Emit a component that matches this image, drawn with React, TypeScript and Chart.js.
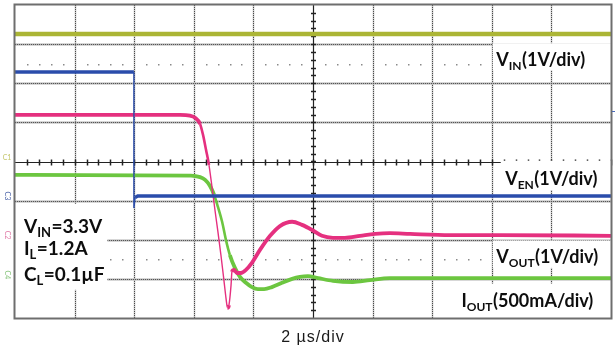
import React, { useEffect, useRef } from "react";
import { Chart, registerables } from "chart.js";

Chart.register(...registerables);

// Time axis in µs (2 µs/div, 10 divisions); vertical axis in screen divisions (8 divisions)
const timeMin = 0;
const timeMax = 20;
const divMin = 0;
const divMax = 8;
const timeGrid = [0, 2, 4, 6, 8, 10, 12, 14, 16, 18, 20];
const levelGrid = [0, 1, 2, 3, 4, 5, 6, 7, 8];
const dottedLevels = [1.5, 6.5];
const xAxisCaption = "2 µs/div";

// VIN (1V/div)
const vinTime = [0, 20];
const vinLevel = [7.26, 7.26];

// VEN (1V/div)
const venTime = [0, 3.99, 3.99, 4.03, 4.12, 20];
const venLevel = [6.29, 6.29, 2.81, 3.08, 3.12, 3.12];

// VOUT (1V/div)
const voutTime = [0, 5.54, 5.87, 6.04, 6.21, 6.31, 6.41, 6.51, 6.61, 6.71, 6.81, 6.91, 7.01, 7.08, 7.13, 7.18, 7.25, 7.28, 7.35, 7.45, 7.58, 7.75, 7.95, 8.22, 8.56, 8.89, 9.3, 9.63, 9.97, 10.3, 10.67, 11.07, 11.58, 12.08, 12.58, 13.26, 14.6, 16.28, 20];
const voutLevel = [5.19, 5.19, 5.17, 5.12, 4.96, 4.68, 4.3, 3.91, 3.35, 2.76, 2.2, 1.61, 0.97, 0.51, 0.26, 0.33, 0.84, 1.18, 1.23, 1.15, 1.15, 1.23, 1.41, 1.74, 2.1, 2.35, 2.46, 2.38, 2.25, 2.1, 2.05, 2.05, 2.1, 2.15, 2.17, 2.15, 2.12, 2.12, 2.1];

// IOUT (500mA/div)
const ioutTime = [0, 5.9, 6.21, 6.38, 6.54, 6.68, 6.81, 6.95, 7.08, 7.21, 7.38, 7.55, 7.75, 7.95, 8.15, 8.36, 8.62, 8.96, 9.3, 9.56, 9.83, 10.17, 10.67, 11.34, 11.91, 12.58, 14.6, 20];
const ioutLevel = [3.66, 3.64, 3.6, 3.53, 3.38, 3.15, 2.84, 2.46, 1.99, 1.61, 1.28, 1.05, 0.9, 0.79, 0.74, 0.74, 0.79, 0.9, 1.0, 1.05, 1.07, 1.02, 0.95, 0.92, 0.97, 1.02, 1.02, 1.02];

const traceLabels = [
  ["V", "IN", "(1V/div)"],
  ["V", "EN", "(1V/div)"],
  ["V", "OUT", "(1V/div)"],
  ["I", "OUT", "(500mA/div)"],
];
const conditionLabels = [
  ["V", "IN", "=3.3V"],
  ["I", "L", "=1.2A"],
  ["C", "L", "=0.1µF"],
];
const channelMarks = ["C1", "C3", "C2", "C4"];
const channelMarkLevels = [4.1, 3.12, 2.12, 1.1];

const pts = (t: number[], v: number[]) => t.map((x, i) => ({ x, y: v[i] }));

const FONT = "Lato, 'Open Sans', sans-serif";

function drawSubText(ctx: CanvasRenderingContext2D, x: number, base: number, parts: string[], size: number) {
  ctx.textAlign = "left";
  ctx.textBaseline = "alphabetic";
  ctx.fillStyle = "#0d0d0d";
  ctx.font = `bold ${size}px ${FONT}`;
  ctx.fillText(parts[0], x, base);
  let cx = x + ctx.measureText(parts[0]).width;
  const sub = Math.round(size * 0.66);
  ctx.font = `bold ${sub}px ${FONT}`;
  ctx.fillText(parts[1], cx, base + size * 0.24);
  cx += ctx.measureText(parts[1]).width + 0.5;
  ctx.font = `bold ${size}px ${FONT}`;
  ctx.fillText(parts[2], cx, base);
}

const scopeGrid = {
  id: "scopeGrid",
  beforeDatasetsDraw(chart: any) {
    const { ctx, chartArea: a, scales } = chart;
    const xs = scales.x;
    const ys = scales.y;
    ctx.save();
    ctx.fillStyle = "#fff";
    ctx.fillRect(a.left, a.top, a.right - a.left, a.bottom - a.top);
    const line = (x1: number, y1: number, x2: number, y2: number) => {
      ctx.beginPath();
      ctx.moveTo(x1, y1);
      ctx.lineTo(x2, y2);
      ctx.stroke();
    };
    // grid lines
    for (const t of timeGrid) {
      if (t === timeMin || t === timeMax || t === 10) continue;
      const px = Math.round(xs.getPixelForValue(t)) + 0.5;
      ctx.setLineDash([]);
      ctx.strokeStyle = "#c6c6c6";
      ctx.lineWidth = 1.6;
      line(px, a.top, px, a.bottom);
      ctx.lineWidth = 1;
      ctx.setLineDash([1, 1]);
      ctx.strokeStyle = "#4a4a4a";
      line(px, a.top, px, a.bottom);
    }
    for (const v of levelGrid) {
      if (v === divMin || v === divMax || v === 4) continue;
      const py = Math.round(ys.getPixelForValue(v)) + 0.5;
      ctx.setLineDash([]);
      ctx.strokeStyle = "#b0b0b0";
      ctx.lineWidth = 1.8;
      line(a.left, py, a.right, py);
      ctx.lineWidth = 1;
      ctx.setLineDash([1, 1]);
      ctx.strokeStyle = "#555";
      line(a.left, py, a.right, py);
    }
    ctx.setLineDash([]);
    // dotted marker rows
    ctx.fillStyle = "#8a8a8a";
    for (const lv of dottedLevels) {
      const py = Math.round(ys.getPixelForValue(lv));
      for (let t = 0.4; t < timeMax; t += 0.4) {
        if (Math.abs(t / 2 - Math.round(t / 2)) < 0.01) continue;
        const px = Math.round(xs.getPixelForValue(t));
        ctx.fillRect(px, py, 1.5, 1.5);
      }
    }
    // centre cross with minor ticks
    const cx = Math.round(xs.getPixelForValue(10)) + 0.5;
    const cy = Math.round(ys.getPixelForValue(4)) + 0.5;
    ctx.strokeStyle = "#222";
    ctx.lineWidth = 1.2;
    line(a.left, cy, a.right, cy);
    line(cx, a.top, cx, a.bottom);
    ctx.lineWidth = 1.5;
    for (let t = 0.4; t < timeMax; t += 0.4) {
      const px = Math.round(xs.getPixelForValue(t)) + 0.5;
      line(px, cy - 3, px, cy + 3);
    }
    for (let v = 0.2; v < divMax; v += 0.2) {
      const py = Math.round(ys.getPixelForValue(v)) + 0.5;
      line(cx - 2.5, py, cx + 2.5, py);
    }
    // white label boxes
    ctx.fillStyle = "#fff";
    const X = (t: number) => xs.getPixelForValue(t);
    const Y = (v: number) => ys.getPixelForValue(v);
    ctx.fillRect(X(16) + 1, Y(7.02), a.right - X(16) - 1, Y(6.33) - Y(7.02));
    ctx.fillRect(X(16.3), Y(4.02), a.right - X(16.3), Y(3.27) - Y(4.02));
    ctx.fillRect(X(16) + 1, Y(1.98), a.right - X(16) - 1, Y(1.28) - Y(1.98));
    ctx.fillRect(X(14.9), Y(0.88), a.right - X(14.9), a.bottom - Y(0.88));
    ctx.fillRect(a.left, Y(2.92), X(3.1) - a.left, Y(0.72) - Y(2.92));
    ctx.restore();
  },
  afterDraw(chart: any) {
    const { ctx, chartArea: a, scales } = chart;
    const xs = scales.x;
    const ys = scales.y;
    ctx.save();
    // border
    ctx.strokeStyle = "#6e6e6e";
    ctx.lineWidth = 2;
    ctx.strokeRect(a.left - 0.5, a.top - 0.5, a.right - a.left + 1, a.bottom - a.top + 1);
    // trigger marker on right edge
    ctx.strokeStyle = "#4a6ab8";
    ctx.lineWidth = 1;
    ctx.beginPath();
    ctx.moveTo(a.right + 1, Math.round(ys.getPixelForValue(5.28)) + 0.5);
    ctx.lineTo(a.right + 4, Math.round(ys.getPixelForValue(5.28)) + 0.5);
    ctx.stroke();
    // channel marks on left edge
    const markColors = ["#c4c66a", "#4a62a8", "#e07aa6", "#86c47a"];
    channelMarks.forEach((m, i) => {
      const py = ys.getPixelForValue(channelMarkLevels[i]);
      ctx.save();
      ctx.translate(a.left - 8, py);
      ctx.rotate(i === 0 ? 0 : Math.PI / 2);
      ctx.font = `7px ${FONT}`;
      ctx.fillStyle = markColors[i];
      ctx.textAlign = "center";
      ctx.textBaseline = "middle";
      ctx.fillText(m, 0, 0);
      ctx.restore();
    });
    // trace labels
    const X = (t: number) => xs.getPixelForValue(t);
    const Y = (v: number) => ys.getPixelForValue(v);
    const labelPos = [
      [X(16.15), Y(6.45)],
      [X(16.45), Y(3.4)],
      [X(16.15), Y(1.41)],
      [X(14.98), Y(0.28)],
    ];
    traceLabels.forEach((p, i) => drawSubText(ctx, labelPos[i][0], labelPos[i][1], p, 18));
    const condBase = [2.18, 1.62, 0.95];
    conditionLabels.forEach((p, i) => drawSubText(ctx, X(0.3), Y(condBase[i]), p, 19));
    // x caption
    ctx.font = `16px 'Liberation Sans', Arial, sans-serif`;
    (ctx as any).letterSpacing = "1px";
    ctx.fillStyle = "#1a1a1a";
    ctx.textAlign = "center";
    ctx.textBaseline = "alphabetic";
    ctx.fillText(xAxisCaption, (a.left + a.right) / 2, a.bottom + 24);
    ctx.restore();
  },
};

const segWidth = (wide: number) => (c: any) => {
  const dx = Math.abs(c.p1.x - c.p0.x);
  const dy = Math.abs(c.p1.y - c.p0.y);
  const s = dy / Math.max(dx, 0.001);
  if (s > 6) return 1.4;
  if (s > 3) return 2.6;
  return wide;
};

export default function App() {
  const ref = useRef<HTMLCanvasElement | null>(null);
  useEffect(() => {
    if (!ref.current) return;
    const chart = new Chart(ref.current, {
      type: "line",
      data: {
        datasets: [
          {
            label: "VIN",
            data: pts(vinTime, vinLevel),
            borderColor: "#abb535",
            borderWidth: 4.5,
            pointRadius: 0,
            tension: 0,
          },
          {
            label: "VEN",
            data: pts(venTime, venLevel),
            borderColor: "#2a4cab",
            borderWidth: 3.5,
            pointRadius: 0,
            tension: 0,
            segment: { borderWidth: segWidth(3.5) },
          },
          {
            label: "VOUT",
            data: pts(voutTime, voutLevel),
            borderColor: "#e5307f",
            borderWidth: 3.8,
            pointRadius: 0,
            cubicInterpolationMode: "monotone",
            segment: { borderWidth: segWidth(3.8) },
          },
          {
            label: "IOUT",
            data: pts(ioutTime, ioutLevel),
            borderColor: "#6cc640",
            borderWidth: 3.8,
            pointRadius: 0,
            cubicInterpolationMode: "monotone",
            segment: { borderWidth: segWidth(3.8) },
          },
        ] as any,
      },
      options: {
        animation: false,
        responsive: false,
        maintainAspectRatio: false,
        layout: { padding: { left: 15, right: 5, top: 5, bottom: 30 } },
        plugins: { legend: { display: false }, tooltip: { enabled: false } },
        scales: {
          x: { type: "linear", min: timeMin, max: timeMax, display: false },
          y: { type: "linear", min: divMin, max: divMax, display: false },
        },
      },
      plugins: [scopeGrid as any],
    });
    return () => chart.destroy();
  }, []);
  return (
    <div style={{ position: "absolute", left: 0, top: 0, width: 616, height: 348, background: "#fff" }}>
      <canvas ref={ref} width={616} height={348} style={{ display: "block" }} />
    </div>
  );
}
